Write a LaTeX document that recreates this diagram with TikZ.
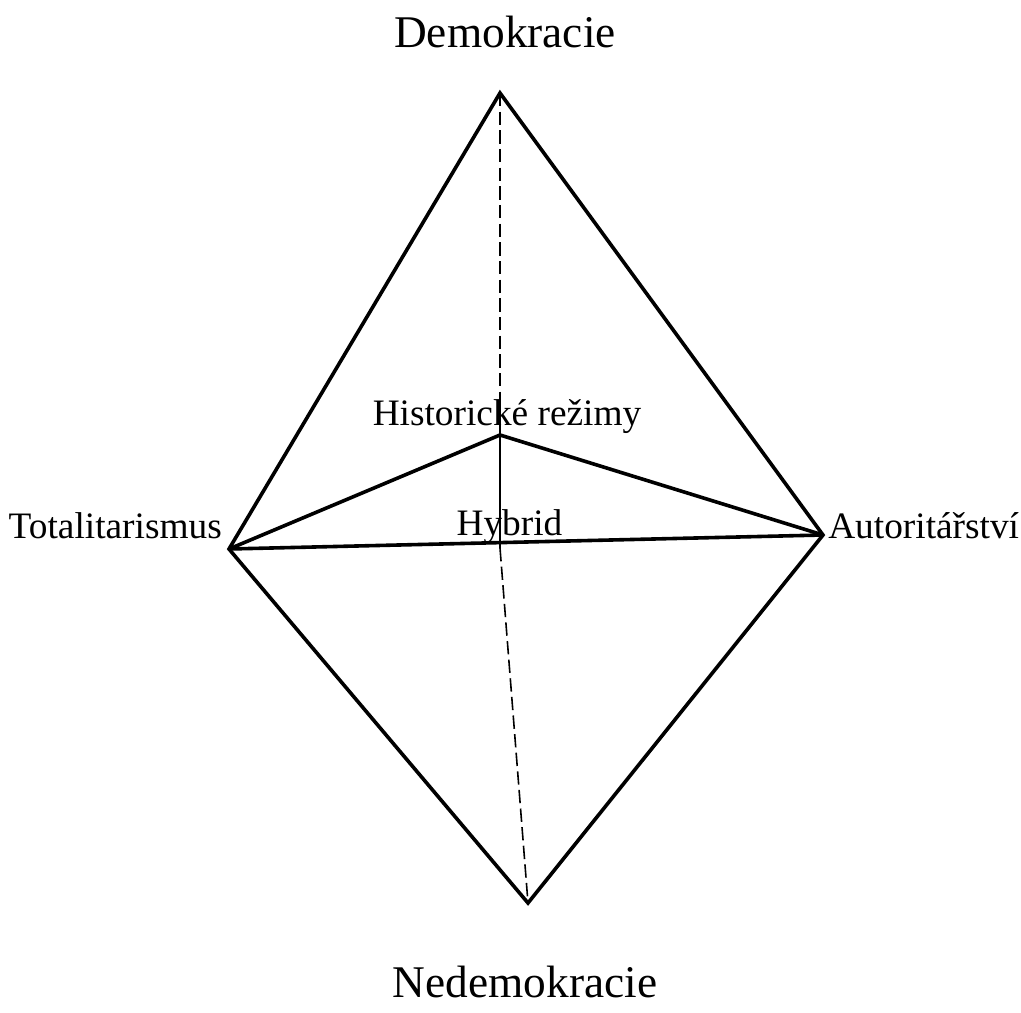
\documentclass[tikz,border=0pt]{standalone}
\usepackage{fontspec}
\setmainfont{Liberation Serif}
\usepackage{tikz}
\tikzset{
  edge/.style={line width=2.7pt, line join=miter},
  axis/.style={line width=1.1pt},
  axisdash/.style={line width=1.2pt, dash pattern=on 10pt off 4pt},
  small/.style={inner sep=0pt, font=\fontsize{28}{34}\selectfont},
  big/.style={inner sep=0pt, font=\fontsize{34}{40}\selectfont}
}

\begin{document}
\begin{tikzpicture}[x=0.75pt, y=-0.75pt]
        \useasboundingbox (0,0) rectangle (1021,1013);
        \coordinate (top) at (500,93);
        \coordinate (bot) at (528,903);
        \coordinate (lft) at (229,549);
        \coordinate (rgt) at (823,535);
        \coordinate (mid) at (500,435);
        \coordinate (hr) at (500,400);
        \coordinate (hyb) at (500,548);
        \node [big, anchor=base] (dem) at (505,48) {Demokracie};
        \node [big, anchor=base] (nedem) at (525,997) {Nedemokracie};
        \node [small, anchor=base east] (tot) at (222,538) {Totalitarismus};
        \node [small, anchor=base west] (aut) at (828,538) {Autoritářství};
        \node [small, anchor=base] (hist) at (507,425) {Historické režimy};
        \node [small, anchor=base] (hybr) at (509.5,535) {Hybrid};
        \draw[axisdash] (top) -- (hr);
        \draw[axis] (hr) -- (hyb);
        \draw[axisdash] (hyb) -- (bot);
        \draw[edge] (top) -- (rgt) -- (bot) -- (lft) -- cycle;
        \draw[edge] (lft) -- (mid) -- (rgt);
        \draw[edge] (lft) -- (rgt);
      \end{tikzpicture}
\end{document}
